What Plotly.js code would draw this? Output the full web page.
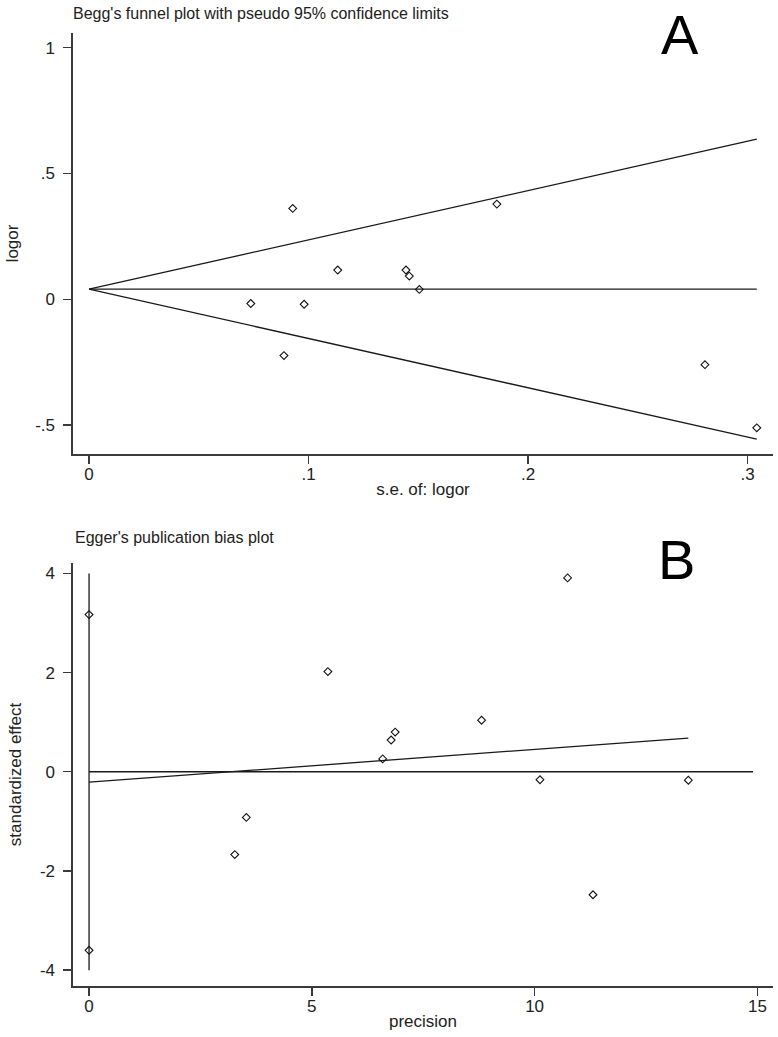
<!DOCTYPE html>
<html>
<head>
<meta charset="utf-8">
<script src="https://cdn.plot.ly/plotly-3.0.1.min.js"></script>
<style>
  html, body { margin: 0; padding: 0; background: #fff; }
  #chart { width: 778px; height: 1037px; }
</style>
</head>
<body>
<div id="chart"></div>
<script>
// ---------- Panel A: Begg's funnel plot ----------
const beggSE    = [0.0928, 0.1133, 0.1444, 0.1459, 0.1505, 0.0737, 0.0980, 0.0888, 0.2806, 0.3042, 0.1858];
const beggLogOR = [0.361, 0.116, 0.116, 0.092, 0.039, -0.017, -0.020, -0.224, -0.260, -0.511, 0.378];
const funnelSE    = [0, 0.3042];
const pooledLogOR = [0.040, 0.040];
const upperLimit  = [0.040, 0.636];
const lowerLimit  = [0.040, -0.556];
const beggXTickVals = [0, 0.1, 0.2, 0.3];
const beggXTickText = ["0", ".1", ".2", ".3"];
const beggYTickVals = [-0.5, 0, 0.5, 1];
const beggYTickText = ["-.5", "0", ".5", "1"];

// ---------- Panel B: Egger's publication bias plot ----------
const eggerPrecision = [0, 0, 5.36, 10.74, 8.81, 6.87, 6.78, 6.59, 10.12, 13.45, 3.53, 3.27, 11.31];
const eggerStdEffect = [3.17, -3.60, 2.02, 3.91, 1.04, 0.80, 0.64, 0.26, -0.16, -0.17, -0.92, -1.67, -2.48];
const regPrecision = [0, 13.45];
const regEffect    = [-0.21, 0.68];
const zeroPrecision = [0, 14.9];
const zeroEffect    = [0, 0];
const ciPrecision = [0, 0];
const ciEffect    = [-4, 4];
const eggerXTickVals = [0, 5, 10, 15];
const eggerXTickText = ["0", "5", "10", "15"];
const eggerYTickVals = [-4, -2, 0, 2, 4];
const eggerYTickText = ["-4", "-2", "0", "2", "4"];

const FONT = "Liberation Sans, Arial, sans-serif";
const lineStyle = {color: "#1a1a1a", width: 1.3};
const markerStyle = {symbol: "diamond-open", size: 6, color: "#111", line: {width: 1.1, color: "#111"}};

const traces = [
  {x: funnelSE, y: upperLimit, mode: "lines", line: lineStyle, xaxis: "x", yaxis: "y", hoverinfo: "skip"},
  {x: funnelSE, y: lowerLimit, mode: "lines", line: lineStyle, xaxis: "x", yaxis: "y", hoverinfo: "skip"},
  {x: funnelSE, y: pooledLogOR, mode: "lines", line: lineStyle, xaxis: "x", yaxis: "y", hoverinfo: "skip"},
  {x: beggSE, y: beggLogOR, mode: "markers", marker: markerStyle, xaxis: "x", yaxis: "y"},

  {x: ciPrecision, y: ciEffect, mode: "lines", line: lineStyle, xaxis: "x2", yaxis: "y2", hoverinfo: "skip"},
  {x: zeroPrecision, y: zeroEffect, mode: "lines", line: lineStyle, xaxis: "x2", yaxis: "y2", hoverinfo: "skip"},
  {x: regPrecision, y: regEffect, mode: "lines", line: lineStyle, xaxis: "x2", yaxis: "y2", hoverinfo: "skip"},
  {x: eggerPrecision, y: eggerStdEffect, mode: "markers", marker: markerStyle, xaxis: "x2", yaxis: "y2"}
];

// pixel helpers for paper coordinates (plot area: x 73..773, y 33..986)
const PL = 73, PR = 773, PT = 33, PB = 986;
const px = v => (v - PL) / (PR - PL);
const py = v => (PB - v) / (PB - PT);

const axisCommon = {
  showline: true, linecolor: "#3a3a3a", linewidth: 1.6,
  ticks: "outside", ticklen: 8, tickwidth: 1.4, tickcolor: "#3a3a3a",
  showgrid: false, zeroline: false,
  tickfont: {family: FONT, size: 17, color: "#222"},
  automargin: false, fixedrange: true
};
const xAxisCommon = Object.assign({}, axisCommon, {ticklabelstandoff: -4});
const yAxisCommon = Object.assign({}, axisCommon, {ticklabelstandoff: 5});
const titleFont = {family: FONT, size: 17, color: "#222"};

const layout = {
  width: 778, height: 1037,
  margin: {l: PL, r: 778 - PR, t: PT, b: 1037 - PB},
  paper_bgcolor: "#fff", plot_bgcolor: "#fff",
  showlegend: false,
  font: {family: FONT, color: "#222"},
  title: {
    text: "Begg's funnel plot with pseudo 95% confidence limits",
    font: {family: FONT, size: 16, color: "#222"},
    xref: "paper", x: 0, xanchor: "left",
    yref: "container", y: 1 - 13 / 1037, yanchor: "middle"
  },
  xaxis: Object.assign({}, xAxisCommon, {
    domain: [0, 1], anchor: "y",
    range: [-0.0073, 0.3116],
    tickvals: beggXTickVals, ticktext: beggXTickText,
    title: {text: "s.e. of: logor", font: titleFont, standoff: 0}
  }),
  yaxis: Object.assign({}, yAxisCommon, {
    domain: [py(454), 1], anchor: "x",
    range: [-0.615, 1.058],
    tickvals: beggYTickVals, ticktext: beggYTickText,
    title: {text: "logor", font: titleFont, standoff: 12}
  }),
  xaxis2: Object.assign({}, xAxisCommon, {
    domain: [0, 1], anchor: "y2",
    range: [-0.36, 15.35],
    tickvals: eggerXTickVals, ticktext: eggerXTickText,
    title: {text: "precision", font: titleFont, standoff: 0}
  }),
  yaxis2: Object.assign({}, yAxisCommon, {
    domain: [0, py(563)], anchor: "x2",
    range: [-4.32, 4.21],
    tickvals: eggerYTickVals, ticktext: eggerYTickText,
    title: {text: "standardized effect", font: titleFont, standoff: 14}
  }),
  annotations: [
    {text: "Egger's publication bias plot", xref: "paper", yref: "paper",
     x: 0, y: py(537), xanchor: "left", yanchor: "middle", showarrow: false,
     font: {family: FONT, size: 16, color: "#222"}},
    {text: "A", xref: "paper", yref: "paper", x: px(680), y: py(34),
     xanchor: "center", yanchor: "middle", showarrow: false,
     font: {family: FONT, size: 56, color: "#000"}},
    {text: "B", xref: "paper", yref: "paper", x: px(676), y: py(559),
     xanchor: "center", yanchor: "middle", showarrow: false,
     font: {family: FONT, size: 56, color: "#000"}}
  ]
};

Plotly.newPlot("chart", traces, layout, {staticPlot: true, displayModeBar: false});
</script>
</body>
</html>
